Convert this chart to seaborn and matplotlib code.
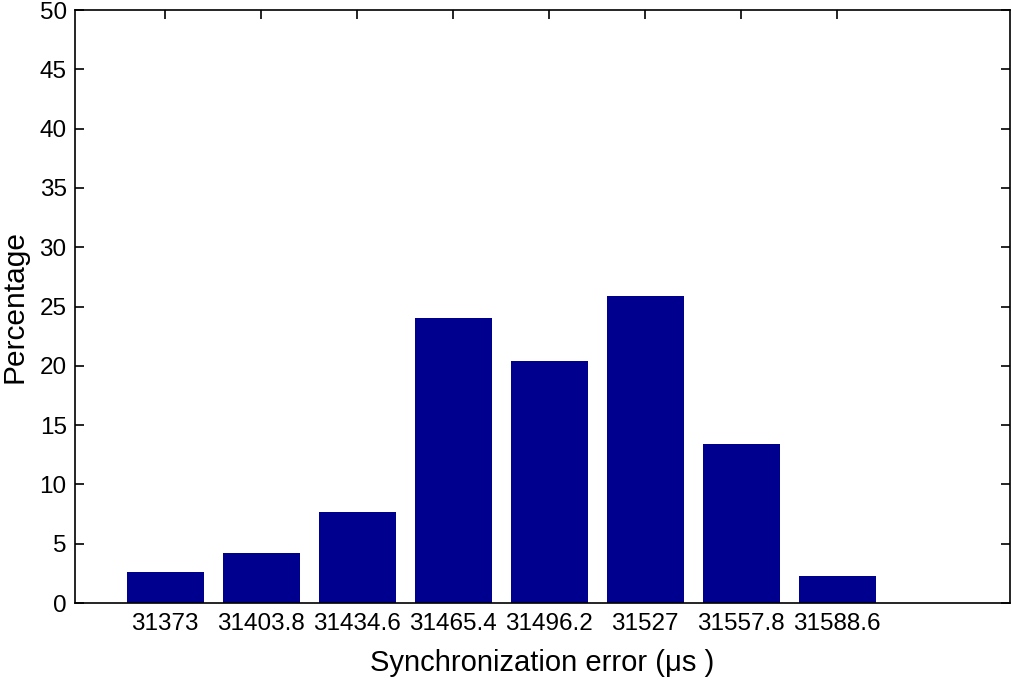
import pandas as pd
import matplotlib
matplotlib.use("Agg")
import matplotlib.pyplot as plt
import seaborn as sns

# Histogram bins (bin centres, microseconds) and share of samples in each
bin_labels = ["31373", "31403.8", "31434.6", "31465.4", "31496.2",
              "31527", "31557.8", "31588.6"]
percentages = [2.6, 4.2, 7.7, 24.0, 20.4, 25.9, 13.4, 2.3]
y_ticks = [0, 5, 10, 15, 20, 25, 30, 35, 40, 45, 50]

df = pd.DataFrame({"bin": bin_labels, "pct": percentages})

sns.set_style("ticks")
plt.rcParams["font.family"] = ["Liberation Sans", "DejaVu Sans"]
plt.rcParams["text.color"] = "black"
plt.rcParams["axes.labelcolor"] = "black"

fig = plt.figure(figsize=(10.11, 6.81), dpi=100)
ax = fig.add_axes([0.0742, 0.1145, 0.9248, 0.8708])

sns.barplot(data=df, x="bin", y="pct", order=bin_labels, color="#00008F",
            saturation=1, width=0.8, linewidth=0, ax=ax)

ax.set_xlim(-0.94, 8.8)
ax.set_ylim(0, 50)
ax.set_yticks(y_ticks)

for side in ["top", "right", "left", "bottom"]:
    ax.spines[side].set_visible(True)
    ax.spines[side].set_linewidth(1.2)
    ax.spines[side].set_color("black")

ax.tick_params(axis="both", direction="in", length=6.5, width=1.2,
               top=True, right=True, labelsize=17.5, colors="black")
ax.tick_params(axis="x", pad=7)
ax.tick_params(axis="y", pad=6)

ax.set_xlabel("Synchronization error (\u03bcs )", fontsize=21, labelpad=10)
ax.set_ylabel("Percentage", fontsize=21.5, labelpad=8)

fig.savefig("out.png", dpi=100)
